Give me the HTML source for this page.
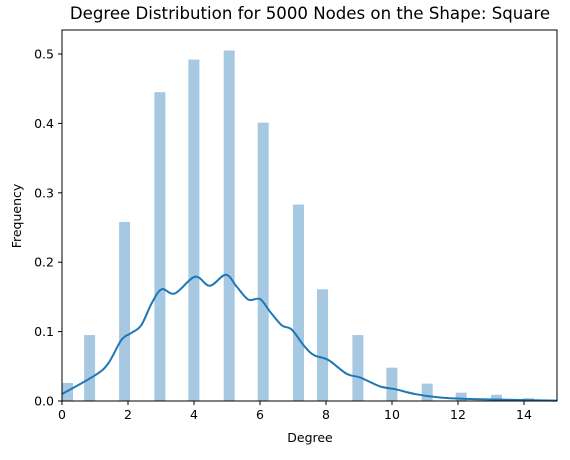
<!DOCTYPE html>
<html><head><meta charset="utf-8"><style>
body{margin:0;background:#fff;width:570px;height:455px;overflow:hidden}
svg text{font-family:"DejaVu Sans","Liberation Sans",sans-serif;fill:#000}
</style></head><body>
<svg id="chart" width="570" height="455">
<text x="310" y="19" font-size="16.6" text-anchor="middle">Degree Distribution for 5000 Nodes on the Shape: Square</text>
<g id="bars"></g>
<path id="kde" fill="none" stroke="#1f77b4" stroke-width="2"></path>
<rect x="62" y="30" width="495" height="371" fill="none" stroke="#000" stroke-width="1"></rect>
<g id="xticks"></g>
<g id="yticks"></g>
<text x="310" y="442" font-size="12.5" text-anchor="middle">Degree</text>
<text x="21" y="216" font-size="12.5" text-anchor="middle" transform="rotate(-90 21 216)">Frequency</text>
</svg>
<script>
const binStarts=[0,0.67,1.73,2.8,3.83,4.9,5.93,7.0,7.73,8.8,9.83,10.9,11.93,13.0,13.97];
const binHeights=[0.026,0.095,0.258,0.445,0.492,0.505,0.401,0.283,0.161,0.095,0.048,0.025,0.012,0.009,0.004];
const binWidth=0.333;
const kdeX=[0,1.0,1.4,1.8,2.1,2.4,2.72,3.02,3.42,4.03,4.48,4.96,5.29,5.65,6.0,6.3,6.66,6.96,7.36,7.64,8.07,8.63,9.03,9.64,10.1,10.7,11.45,12.26,13.3,15];
const kdeY=[0.010,0.037,0.054,0.088,0.098,0.109,0.141,0.161,0.155,0.179,0.166,0.182,0.165,0.146,0.147,0.129,0.109,0.103,0.078,0.066,0.059,0.039,0.034,0.021,0.017,0.010,0.005,0.003,0.002,0.0005];
const xTicks=[0,2,4,6,8,10,12,14];
const yTicks=[0,0.1,0.2,0.3,0.4,0.5];
const NS="http://www.w3.org/2000/svg";
const sx=v=>62+v*33, sy=v=>401-v*694;
const bars=document.getElementById('bars');
binStarts.forEach((s,i)=>{
  const r=document.createElementNS(NS,'rect');
  r.setAttribute('x',sx(s));r.setAttribute('width',binWidth*33);
  r.setAttribute('y',sy(binHeights[i]));r.setAttribute('height',sy(0)-sy(binHeights[i]));
  r.setAttribute('fill','#a6c8e0');
  
  
  bars.appendChild(r);
});
const pts=kdeX.map((x,i)=>[sx(x),sy(kdeY[i])]);
let d='M'+pts[0][0]+','+pts[0][1];
for(let i=0;i<pts.length-1;i++){
  const p0=pts[i-1]||pts[i],p1=pts[i],p2=pts[i+1],p3=pts[i+2]||p2;
  d+=' C'+(p1[0]+(p2[0]-p0[0])/6)+','+(p1[1]+(p2[1]-p0[1])/6)+' '+(p2[0]-(p3[0]-p1[0])/6)+','+(p2[1]-(p3[1]-p1[1])/6)+' '+p2[0]+','+p2[1];
}
document.getElementById('kde').setAttribute('d',d);
const xg=document.getElementById('xticks');
xTicks.forEach(t=>{
  const l=document.createElementNS(NS,'line');
  l.setAttribute('x1',sx(t));l.setAttribute('x2',sx(t));l.setAttribute('y1',401);l.setAttribute('y2',405);l.setAttribute('stroke','#000');
  
  
  xg.appendChild(l);
  const tx=document.createElementNS(NS,'text');
  tx.setAttribute('x',sx(t));tx.setAttribute('y',419);tx.setAttribute('font-size','12.5');tx.setAttribute('text-anchor','middle');
  tx.textContent=t;
  
  
  xg.appendChild(tx);
});
const yg=document.getElementById('yticks');
yTicks.forEach(t=>{
  const l=document.createElementNS(NS,'line');
  l.setAttribute('x1',58);l.setAttribute('x2',62);l.setAttribute('y1',sy(t));l.setAttribute('y2',sy(t));l.setAttribute('stroke','#000');
  
  
  yg.appendChild(l);
  const tx=document.createElementNS(NS,'text');
  tx.setAttribute('x',54);tx.setAttribute('y',sy(t)+4.5);tx.setAttribute('font-size','12.5');tx.setAttribute('text-anchor','end');
  tx.textContent=t.toFixed(1);
  
  
  yg.appendChild(tx);
});
</script>
</body></html>
